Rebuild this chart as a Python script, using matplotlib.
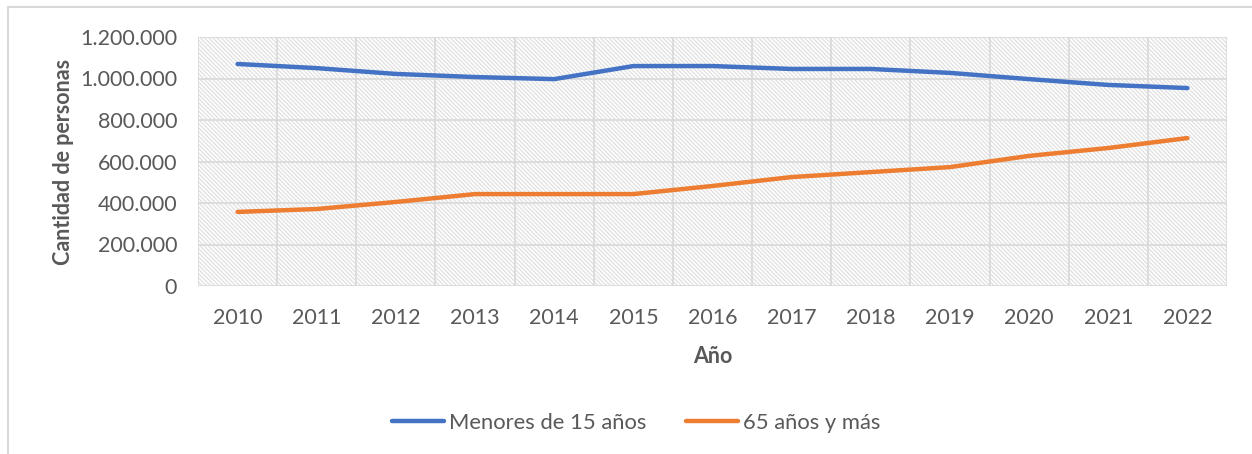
import matplotlib
matplotlib.use("Agg")
import matplotlib.pyplot as plt
from matplotlib.patches import Rectangle
from matplotlib.lines import Line2D
from matplotlib.ticker import FuncFormatter, MultipleLocator

years = ["2010", "2011", "2012", "2013", "2014", "2015", "2016",
         "2017", "2018", "2019", "2020", "2021", "2022"]
menores_15 = [1070000, 1050000, 1022000, 1007000, 997000, 1060000, 1060000,
              1046000, 1046000, 1027000, 997000, 969000, 954000]
mayores_65 = [357000, 371000, 405000, 443000, 443000, 443000, 482000,
              525000, 549000, 573000, 627000, 665000, 713000]
series_names = ["Menores de 15 años", "65 años y más"]

plt.rcParams['font.family'] = ['Lato', 'DejaVu Sans']
plt.rcParams['hatch.linewidth'] = 0.9
TXT = '#595959'
GRID = '#d9d9d9'

fig = plt.figure(figsize=(12.52, 4.54), dpi=100)
ax = fig.add_axes([198/1252, 1-286/454, 1029/1252, 249/454])

x = list(range(len(years)))
ax.set_xlim(-0.5, len(years) - 0.5)
ax.set_ylim(0, 1200000)

# hatched background
ax.add_patch(Rectangle((0, 0), 1, 1, transform=ax.transAxes, fill=False,
                       edgecolor='#e0e0e0', linewidth=0, hatch='\\\\\\\\\\\\\\\\', zorder=0))

ax.yaxis.set_major_locator(MultipleLocator(200000))
ax.xaxis.set_major_locator(MultipleLocator(1))
ax.xaxis.set_minor_locator(MultipleLocator(0.5))
ax.grid(True, axis='y', which='major', color=GRID, linewidth=1.2, zorder=1)
ax.grid(True, axis='x', which='minor', color=GRID, linewidth=1.2, zorder=1)
ax.set_axisbelow(True)
for s in ax.spines.values():
    s.set_visible(False)

ax.set_xticks(x)
ax.set_xticklabels(years)
ax.yaxis.set_major_formatter(FuncFormatter(lambda v, p: f"{int(v):,}".replace(",", ".")))
ax.tick_params(axis='both', which='both', length=0, labelsize=15.5, labelcolor=TXT)
ax.tick_params(axis='x', pad=16)
ax.tick_params(axis='y', pad=15)

l1, = ax.plot(x, menores_15, color='#4472C4', linewidth=3.2, solid_capstyle='round',
              solid_joinstyle='round', zorder=3)
l2, = ax.plot(x, mayores_65, color='#ED7D31', linewidth=3.2, solid_capstyle='round',
              solid_joinstyle='round', zorder=3)

ax.set_xlabel("Año", fontsize=15.5, fontweight='bold', color=TXT, labelpad=13)
ax.set_ylabel("Cantidad de personas", fontsize=15.5, fontweight='bold', color=TXT, labelpad=4)

leg = fig.legend([l1, l2], series_names, loc='center', bbox_to_anchor=(636/1252, 1-423/454),
                 ncol=2, frameon=False, fontsize=15.8, handlelength=2.4, handletextpad=0.2,
                 columnspacing=1.8, labelcolor=TXT)

# chart border fragments
fig.add_artist(Line2D([8/1252, 1], [1-7/454, 1-7/454], transform=fig.transFigure,
                      color=GRID, linewidth=1.5))
fig.add_artist(Line2D([8/1252, 8/1252], [0, 1-7/454], transform=fig.transFigure,
                      color=GRID, linewidth=1.5))

fig.savefig("out.png", dpi=100)
